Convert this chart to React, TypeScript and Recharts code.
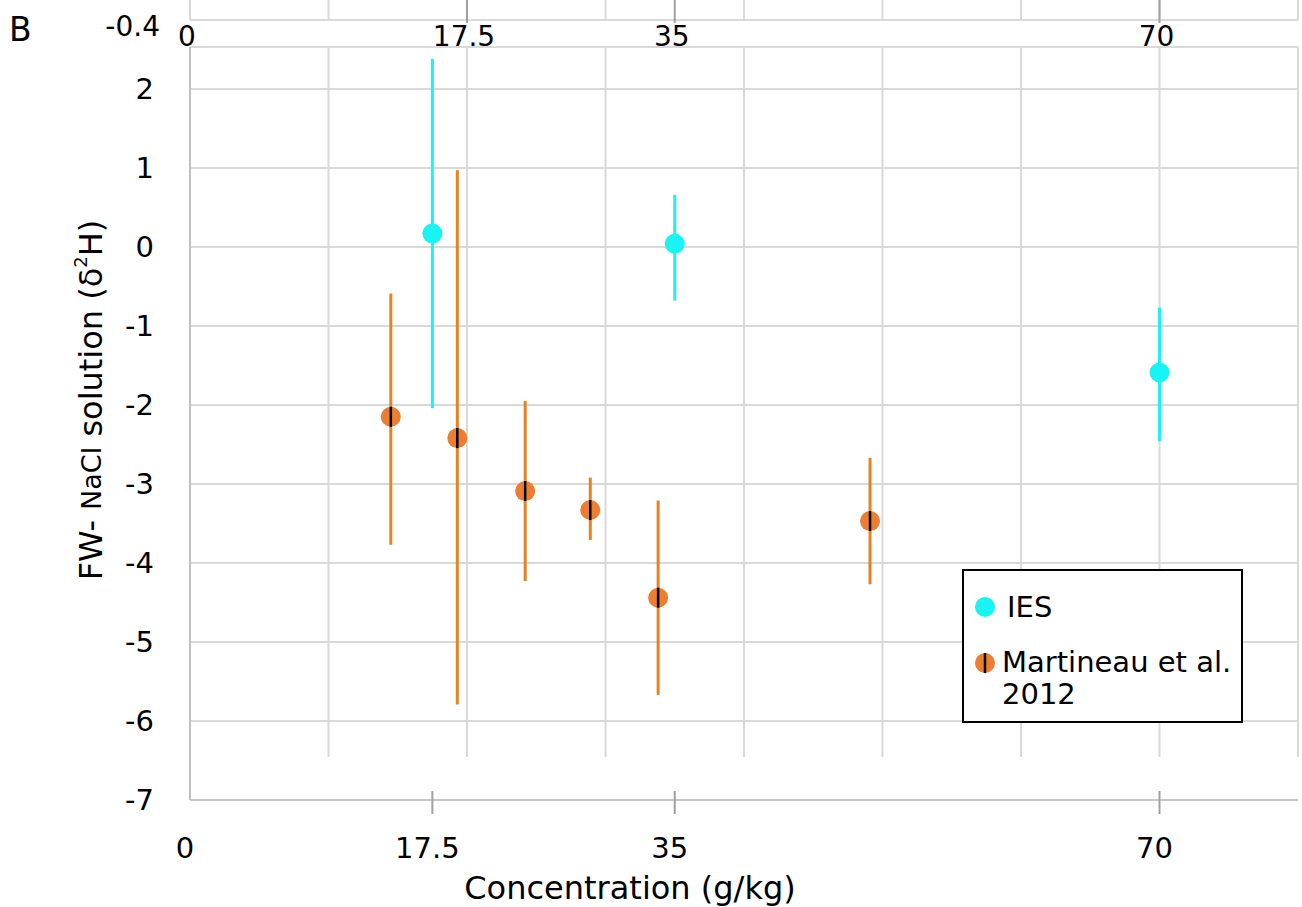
import { ScatterChart, Scatter, XAxis, YAxis, CartesianGrid, ErrorBar, Legend, Label } from 'recharts';

// IES measurements
const iesX = [17.5, 35, 70];
const iesY = [0.17, 0.04, -1.59];
const iesErrLow = [2.21, 0.72, 0.87];
const iesErrHigh = [2.21, 0.62, 0.82];

// Martineau et al. 2012
const martX = [14.5, 19.3, 24.2, 28.9, 33.8, 49.1];
const martY = [-2.15, -2.42, -3.09, -3.33, -4.44, -3.47];
const martErrLow = [1.62, 3.37, 1.14, 0.38, 1.23, 0.8];
const martErrHigh = [1.56, 3.39, 1.14, 0.41, 1.23, 0.8];

const xTicks = [0, 17.5, 35, 70];
const gridTicks = [0, 10, 20, 30, 40, 50, 60, 70, 80];
const yTicks = [-7, -6, -5, -4, -3, -2, -1, 0, 1, 2];

// strip left over from panel A above
const topTicks = [0, 20, 35, 70];
const topTickLabels = ['0', '17.5', '35', '70'];
const topYTicks = [-0.4];

const iesName = 'IES';
const martNameLines = ['Martineau et al.', '2012'];

const FONT = '"DejaVu Sans", Verdana, sans-serif';
const CYAN = '#18F4F4';
const ORANGE = '#ED7D31';
const ORANGE_BAR = '#E8811F';
const GRID = '#d9d9d9';

const iesData = iesX.map((x, i) => ({ x, y: iesY[i], err: [iesErrLow[i], iesErrHigh[i]] }));
const martData = martX.map((x, i) => ({ x, y: martY[i], err: [martErrLow[i], martErrHigh[i]] }));

function IesDot(props: any) {
  const { cx, cy } = props;
  return <circle cx={cx} cy={cy} r={10} fill={CYAN} />;
}

function MartDot(props: any) {
  const { cx, cy } = props;
  return (
    <g>
      <circle cx={cx} cy={cy} r={10} fill={ORANGE} />
      <line x1={cx} x2={cx} y1={cy - 10} y2={cy + 10} stroke="#000" strokeWidth={2.5} />
    </g>
  );
}

function BottomTick(props: any) {
  const { x, y, payload } = props;
  return (
    <g>
      {payload.value !== 0 && (
        <line x1={x} x2={x} y1={y - 9} y2={y + 14} stroke="#a0a0a0" strokeWidth={2} />
      )}
      <text x={x - 5} y={y + 58} textAnchor="middle" fontSize={29} fontFamily={FONT} fill="#000">
        {payload.value}
      </text>
    </g>
  );
}

function TopTick(props: any) {
  const { x, y, payload, index } = props;
  return (
    <g>
      {payload.value !== 0 && (
        <line x1={x} x2={x} y1={y - 20} y2={y + 3} stroke="#a0a0a0" strokeWidth={2} />
      )}
      <text x={x - 3} y={y + 26} textAnchor="middle" fontSize={28} fontFamily={FONT} fill="#000">
        {topTickLabels[index]}
      </text>
    </g>
  );
}

function TopYTick(props: any) {
  const { x, y, payload } = props;
  return (
    <text x={x} y={y + 16} textAnchor="end" fontSize={28} fontFamily={FONT} fill="#000">
      {payload.value}
    </text>
  );
}

function XTitle() {
  return (
    <text x={630} y={899} textAnchor="middle" fontSize={32} fontFamily={FONT} fill="#000">
      Concentration (g/kg)
    </text>
  );
}

function YTitle() {
  const cx = 91;
  const cy = 400;
  return (
    <text
      x={cx}
      y={cy}
      transform={`rotate(-90, ${cx}, ${cy})`}
      textAnchor="middle"
      dominantBaseline="central"
      fontSize={32}
      fontFamily={FONT}
      fill="#000"
    >
      <tspan>FW- </tspan>
      <tspan fontSize={27}>NaCl</tspan>
      <tspan> solution (δ</tspan>
      <tspan fontSize={18} dy={-11}>2</tspan>
      <tspan dy={11}>H)</tspan>
    </text>
  );
}

function LegendBox() {
  return (
    <svg width={281} height={154} style={{ display: 'block' }}>
      <rect x={1} y={1} width={279} height={152} fill="#fff" stroke="#000" strokeWidth={2} />
      <circle cx={23} cy={38} r={10} fill={CYAN} />
      <text x={45} y={48} fontSize={29} fontFamily={FONT} fill="#000">
        {iesName}
      </text>
      <circle cx={23} cy={94} r={10} fill={ORANGE} />
      <line x1={23} x2={23} y1={84} y2={104} stroke="#000" strokeWidth={2.5} />
      {martNameLines.map((line, i) => (
        <text key={line} x={40} y={103 + i * 32} fontSize={29} fontFamily={FONT} fill="#000">
          {line}
        </text>
      ))}
    </svg>
  );
}

export default function App() {
  return (
    <div style={{ position: 'absolute', left: 0, top: 0, width: 1302, height: 907, background: '#fff' }}>
      <div style={{ position: 'absolute', left: 0, top: 0 }}>
        <ScatterChart width={1302} height={60} margin={{ top: 0, right: 4, bottom: 39, left: 189 }}>
          <CartesianGrid horizontal={false} verticalValues={gridTicks} stroke={GRID} strokeWidth={2} />
          <XAxis
            type="number"
            dataKey="x"
            domain={[0, 80]}
            ticks={topTicks}
            interval={0}
            height={1}
            tickSize={0}
            tickMargin={0}
            tickLine={false}
            axisLine={{ stroke: GRID, strokeWidth: 2 }}
            tick={<TopTick />}
            allowDataOverflow
          />
          <YAxis
            type="number"
            dataKey="y"
            domain={[-0.4, 0]}
            ticks={topYTicks}
            interval={0}
            width={1}
            tickSize={0}
            tickMargin={30}
            tickLine={false}
            axisLine={false}
            tick={<TopYTick />}
            allowDataOverflow
          />
          <Scatter data={[]} isAnimationActive={false} />
        </ScatterChart>
      </div>

      <div style={{ position: 'absolute', left: 0, top: 0 }}>
        <ScatterChart width={1302} height={907} margin={{ top: 47, right: 4, bottom: 106, left: 189 }}>
          <CartesianGrid vertical={false} stroke={GRID} strokeWidth={2} />
          <CartesianGrid
            horizontal={false}
            verticalValues={gridTicks}
            y={47}
            height={710}
            stroke={GRID}
            strokeWidth={2}
          />
          <XAxis
            type="number"
            dataKey="x"
            domain={[0, 80]}
            ticks={xTicks}
            interval={0}
            height={1}
            tickSize={0}
            tickMargin={0}
            tickLine={false}
            axisLine={{ stroke: '#c9c9c9', strokeWidth: 2 }}
            tick={<BottomTick />}
            allowDataOverflow
          >
            <Label content={<XTitle />} />
          </XAxis>
          <YAxis
            type="number"
            dataKey="y"
            domain={[-7, 2.53]}
            ticks={yTicks}
            interval={0}
            width={1}
            tickSize={0}
            tickMargin={36}
            tickLine={false}
            axisLine={{ stroke: '#c0c0c0', strokeWidth: 2 }}
            tick={{ fontSize: 29, fontFamily: FONT, fill: '#000' }}
            allowDataOverflow
          >
            <Label content={<YTitle />} />
          </YAxis>
          <Scatter name={iesName} data={iesData} shape={IesDot} isAnimationActive={false}>
            <ErrorBar dataKey="err" direction="y" width={0} stroke={CYAN} strokeWidth={3} isAnimationActive={false} />
          </Scatter>
          <Scatter name={martNameLines.join(' ')} data={martData} shape={MartDot} isAnimationActive={false}>
            <ErrorBar dataKey="err" direction="y" width={0} stroke={ORANGE_BAR} strokeWidth={3} isAnimationActive={false} />
          </Scatter>
          <Legend
            layout="vertical"
            align="center"
            verticalAlign="middle"
            content={<LegendBox />}
            wrapperStyle={{ left: 962, top: 569, width: 281, height: 154 }}
          />
        </ScatterChart>
      </div>

      <div style={{ position: 'absolute', left: 9, top: 10, fontSize: 33, fontFamily: FONT, color: '#000' }}>
        B
      </div>
    </div>
  );
}
